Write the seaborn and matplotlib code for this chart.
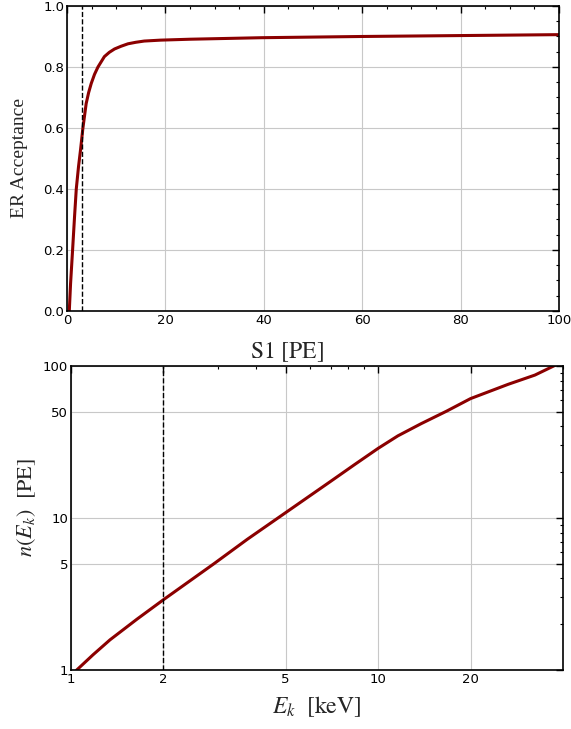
import numpy as np
import pandas as pd
import seaborn as sns
import matplotlib
matplotlib.use('Agg')
import matplotlib.pyplot as plt
from matplotlib.ticker import MultipleLocator, LogLocator, FixedLocator, FixedFormatter, NullFormatter

# values
s1_pe = [0.47, 0.73, 1.14, 1.54, 1.89, 2.35, 2.76, 3.24, 3.9, 4.4, 4.93, 5.6, 6.3, 7.6, 8.6, 9.66,
         11.0, 12.4, 14.0, 15.7, 19.0, 25.0, 39.6, 60.0, 80.0, 100.0]
er_acceptance = [0.0, 0.09, 0.20, 0.31, 0.40, 0.474, 0.529, 0.600, 0.680, 0.716, 0.746, 0.776, 0.800,
                 0.834, 0.848, 0.859, 0.868, 0.876, 0.881, 0.885, 0.888, 0.891, 0.896, 0.900, 0.903, 0.906]
s1_threshold = 3.0

e_kev = [1.044, 1.18, 1.34, 1.64, 2.0, 2.92, 3.75, 4.82, 7.03, 8.37, 10.0, 11.6, 13.8, 16.7, 20.0,
         26.5, 32.4, 37.7]
n_pe = [1.0, 1.26, 1.58, 2.16, 2.90, 5.0, 7.24, 10.3, 17.5, 22.4, 28.7, 34.7, 41.7, 50.4, 61.0,
        75.7, 87.1, 101.0]
e_threshold = 2.0

top = pd.DataFrame({'S1': s1_pe, 'acc': er_acceptance})
bot = pd.DataFrame({'E': e_kev, 'n': n_pe})

sns.set_style('whitegrid')
plt.rcParams['font.family'] = ['DejaVu Sans']
plt.rcParams['mathtext.fontset'] = 'stix'
plt.rcParams['lines.solid_joinstyle'] = 'round'

fig = plt.figure(figsize=(5.71, 7.29), dpi=100)
ax1 = fig.add_axes([0.1173, 0.5734, 0.8617, 0.4184])
ax2 = fig.add_axes([0.1243, 0.0809, 0.8617, 0.4171])

line_col = '#8b0000'
serif = ['Liberation Serif', 'DejaVu Serif']

# ---- top panel: acceptance vs S1 ----
sns.lineplot(data=top, x='S1', y='acc', ax=ax1, color=line_col, lw=2.2, estimator=None)
ax1.axvline(s1_threshold, color='black', ls='--', lw=1)
ax1.set_xlim(0, 100)
ax1.set_ylim(0, 1.0)
ax1.xaxis.set_major_locator(MultipleLocator(20))
ax1.xaxis.set_minor_locator(MultipleLocator(5))
ax1.yaxis.set_major_locator(MultipleLocator(0.2))
ax1.yaxis.set_minor_locator(MultipleLocator(0.05))
ax1.set_xlabel(r'$\mathrm{S1\ [PE]}$', fontsize=17)
ax1.set_ylabel('ER Acceptance', family=serif, fontsize=14)
ax1.xaxis.set_label_coords(0.447, -0.095)
ax1.yaxis.set_label_coords(-0.079, 0.5)

# ---- bottom panel: n(E_k) vs E_k ----
sns.lineplot(data=bot, x='E', y='n', ax=ax2, color=line_col, lw=2.2, estimator=None)
ax2.axvline(e_threshold, color='black', ls='--', lw=1)
ax2.set_xscale('log')
ax2.set_yscale('log')
ax2.set_xlim(1, 40)
ax2.set_ylim(1, 100)
ax2.xaxis.set_major_locator(FixedLocator([1, 2, 5, 10, 20]))
ax2.xaxis.set_major_formatter(FixedFormatter(['1', '2', '5', '10', '20']))
ax2.xaxis.set_minor_locator(LogLocator(subs=np.arange(1, 10)))
ax2.xaxis.set_minor_formatter(NullFormatter())
ax2.yaxis.set_major_locator(FixedLocator([1, 5, 10, 50, 100]))
ax2.yaxis.set_major_formatter(FixedFormatter(['1', '5', '10', '50', '100']))
ax2.yaxis.set_minor_locator(LogLocator(subs=np.arange(1, 10)))
ax2.yaxis.set_minor_formatter(NullFormatter())
ax2.set_xlabel(r'$E_k\ \ \mathrm{[keV]}$', fontsize=17, labelpad=6)
ax2.set_ylabel(r'$n(E_k)\ \ \mathrm{[PE]}$', fontsize=16)
ax2.yaxis.set_label_coords(-0.067, 0.536)

for ax in (ax1, ax2):
    ax.grid(True, which='major', color='#c8c8c8', lw=0.8)
    ax.grid(False, which='minor')
    for sp in ax.spines.values():
        sp.set_color('black')
        sp.set_linewidth(1.2)
    ax.tick_params(which='both', direction='in', top=True, right=True, colors='black',
                   labelsize=9.5, pad=2)
    ax.tick_params(which='major', length=5, width=1)
    ax.tick_params(which='minor', length=2.5, width=0.8)

fig.savefig('out.png', dpi=100)
